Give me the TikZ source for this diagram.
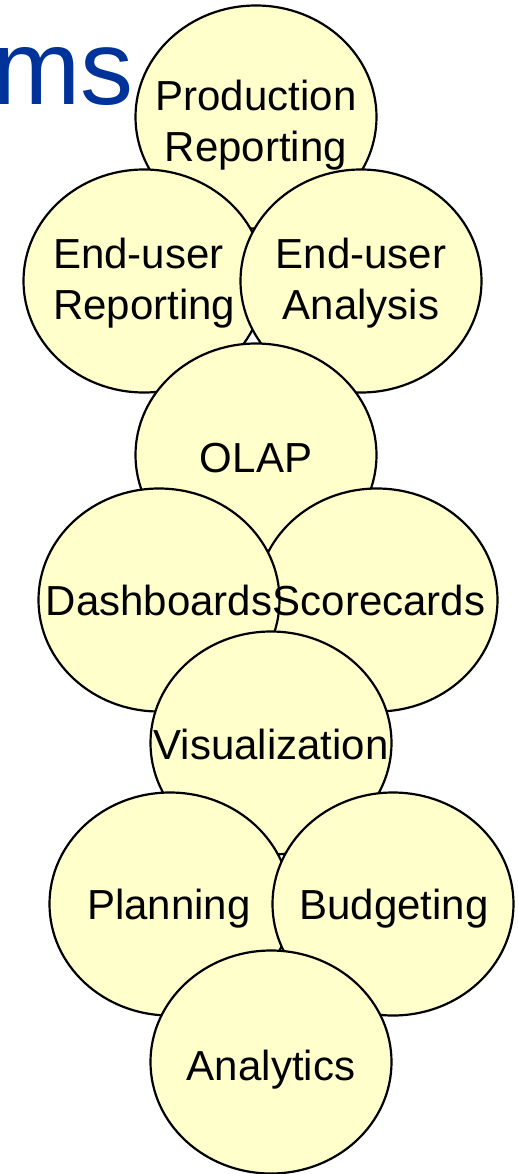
\documentclass[tikz,border=0pt]{standalone}
\usepackage{fontspec}
\setmainfont{Liberation Sans}
\usetikzlibrary{shapes.geometric}
\definecolor{bubfill}{RGB}{255,255,204}
\definecolor{titleblue}{RGB}{0,51,153}
\begin{document}
\begin{tikzpicture}[x=1pt,y=-1pt,
  bub/.style={ellipse, draw=black, line width=2.2pt, fill=bubfill,
    minimum width=241pt, minimum height=223pt, inner sep=0pt},
  txt/.style={font=\fontsize{42}{51}\selectfont, align=center, text=black, inner sep=0pt, anchor=base}]
\useasboundingbox (0,0) rectangle (517,1174);
\node[font=\fontsize{106}{120}\selectfont, text=titleblue, anchor=base east, inner sep=0pt] (title) at (134,105) {ms};
\node[bub] (prod) at (256,117) {};
\node[txt] (prodt) at (256,162) {Production\\Reporting};
\node[bub] (eur) at (144,281) {};
\node[bub] (eua) at (361,281) {};
\node[txt, align=left, anchor=base west] (eurt) at (53,319) {End-user\\Reporting};
\node[txt] (euat) at (361,319) {End-user\\Analysis};
\node[bub] (olap) at (256,455) {};
\node[txt] (olapt) at (256,472) {OLAP};
\node[bub] (score) at (377,600) {};
\node[bub] (dash) at (159,600) {};
\node[txt] (dasht) at (159,615) {Dashboards};
\node[txt] (scoret) at (379,615) {Scorecards};
\node[bub] (vis) at (271,743) {};
\node[txt] (vist) at (271,759) {Visualization};
\node[bub] (plan) at (170,904) {};
\node[bub] (budg) at (393,904) {};
\node[txt] (plant) at (169,919) {Planning};
\node[txt] (budgt) at (394,919) {Budgeting};
\node[bub] (anal) at (271,1062) {};
\node[txt] (analt) at (271,1080) {Analytics};
\end{tikzpicture}
\end{document}
